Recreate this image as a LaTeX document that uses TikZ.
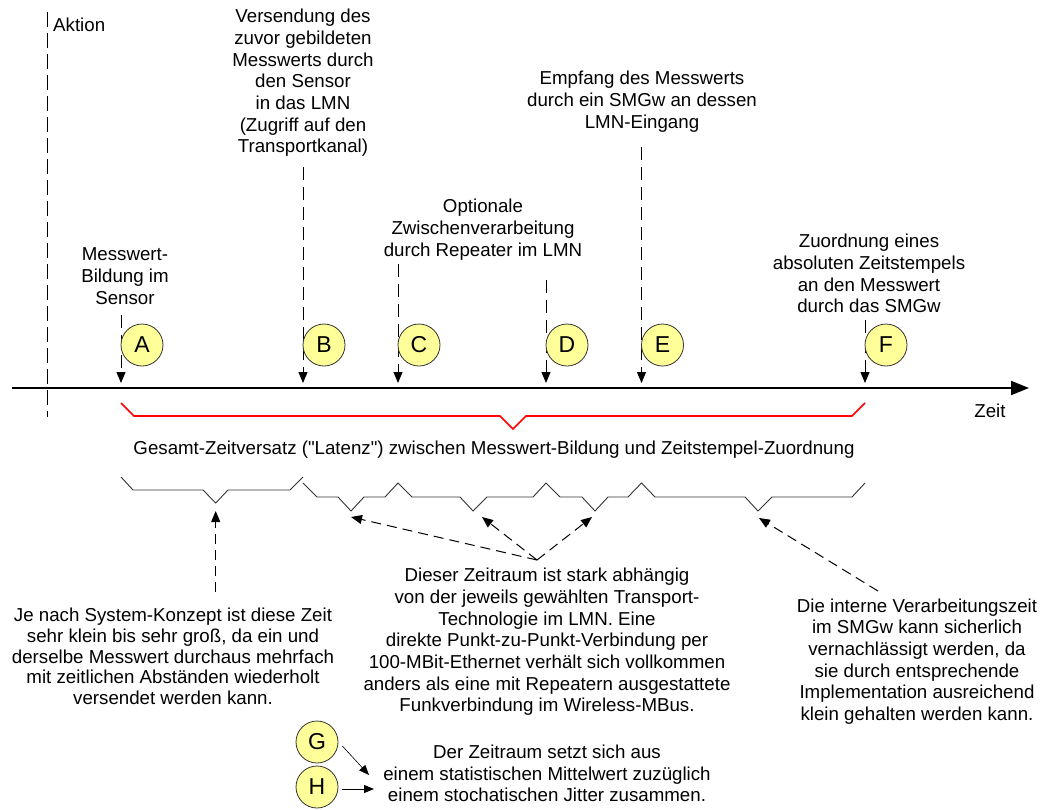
\documentclass[tikz,border=0pt]{standalone}
\usepackage{fontspec}
\setmainfont{Liberation Sans}
\usetikzlibrary{arrows.meta}
\definecolor{circfill}{HTML}{FFFF99}
\definecolor{braceg}{HTML}{333333}
\tikzset{
  txt/.style={inner sep=0pt, align=center, font=\fontsize{18.7}{21.7}\selectfont},
  mark circle/.style={circle, draw=black!80, line width=0.8pt, fill=circfill, minimum size=42pt, inner sep=0pt, font=\fontsize{23}{24}\selectfont},
  darr/.style={draw=black, line width=1pt, dash pattern=on 13pt off 7pt, -{Triangle[length=11pt,width=9pt]}},
  darr2/.style={draw=black, line width=1pt, dash pattern=on 10pt off 6pt, -{Triangle[length=11pt,width=9pt]}},
  bracel/.style={draw=braceg, line width=0.9pt},
  redbrace/.style={draw=red, line width=1.6pt},
}
\begin{document}
\begin{tikzpicture}[x=1pt,y=-1pt]
\useasboundingbox (0,0) rectangle (1044,809);
% axis
\coordinate (ax0) at (12,388);
\coordinate (ax1) at (1029,388);
\draw[line width=2pt, -{Triangle[length=18pt,width=14pt]}] (ax0) -- (ax1);
\node[txt] (zeit) at (990,411) {Zeit};
% Aktion
\coordinate (ak0) at (47.7,12);
\coordinate (ak1) at (47.7,417);
\draw[line width=1pt, dash pattern=on 15pt off 6pt] (ak0) -- (ak1);
\node[txt, anchor=west] (aktion) at (53,25) {Aktion};
% event texts
\node[txt] (tA) at (125,276) {Messwert-\\Bildung im\\Sensor};
\node[txt] (tB) at (303,83) {Versendung des\\zuvor gebildeten\\Messwerts durch\\den Sensor\\in das LMN\\(Zugriff auf den\\Transportkanal)};
\node[txt] (tC) at (483,229.5) {Optionale\\Zwischenverarbeitung\\durch Repeater im LMN};
\node[txt] (tE) at (642,101.5) {Empfang des Messwerts\\durch ein SMGw an dessen\\LMN-Eingang};
\node[txt] (tF) at (869,273.5) {Zuordnung eines\\absoluten Zeitstempels\\an den Messwert\\durch das SMGw};
% arrow coordinates
\coordinate (sA) at (121,315); \coordinate (eA) at (121,383);
\coordinate (sB) at (303,167); \coordinate (eB) at (303,383);
\coordinate (sC) at (398,264); \coordinate (eC) at (398,383);
\coordinate (sD) at (546,280); \coordinate (eD) at (546,383);
\coordinate (sE) at (641.5,147); \coordinate (eE) at (641.5,383);
\coordinate (sF) at (865,320); \coordinate (eF) at (865,383);
\foreach \k in {A,B,C,D,E,F} {\draw[darr] (s\k) -- (e\k);}
% circles
\node[mark circle] (cA) at (142,345) {A};
\node[mark circle] (cB) at (324,345) {B};
\node[mark circle] (cC) at (419,345) {C};
\node[mark circle] (cD) at (567,345) {D};
\node[mark circle] (cE) at (662.5,345) {E};
\node[mark circle] (cF) at (886,345) {F};
% red brace
\draw[redbrace] (121,403) -- (134,416) -- (500,416) -- (513,429) -- (526,416) -- (852,416) -- (865,403);
\node[txt] (gesamt) at (494,450) {Gesamt-Zeitversatz (\textquotedbl Latenz\textquotedbl) zwischen Messwert-Bildung und Zeitstempel-Zuordnung};
% lower braces
\draw[bracel] (121,477) -- (133,490) -- (203,490) -- (215.7,503) -- (228,490) -- (290,490) -- (303,477);
\draw[bracel] (303,483) -- (317,497) -- (338,497) -- (351,511) -- (364,497) -- (385,497) -- (398,483)
  -- (412,497) -- (460,497) -- (473,511) -- (487,497) -- (533,497) -- (546,483)
  -- (560,497) -- (582,497) -- (595,511) -- (608,497) -- (628,497) -- (641.5,483)
  -- (655,497) -- (745,497) -- (758,511) -- (772,497) -- (852,497) -- (865,483);
% lower texts
\node[txt, font=\fontsize{18.7}{20.8}\selectfont] (pL) at (173,656.5) {Je nach System-Konzept ist diese Zeit\\sehr klein bis sehr groß, da ein und\\derselbe Messwert durchaus mehrfach\\mit zeitlichen Abständen wiederholt\\versendet werden kann.};
\node[txt] (pC) at (547,642) {Dieser Zeitraum ist stark abhängig\\von der jeweils gewählten Transport-\\Technologie im LMN. Eine\\direkte Punkt-zu-Punkt-Verbindung per\\100-MBit-Ethernet verhält sich vollkommen\\anders als eine mit Repeatern ausgestattete\\Funkverbindung im Wireless-MBus.};
\node[txt] (pR) at (917,661.5) {Die interne Verarbeitungszeit\\im SMGw kann sicherlich\\vernachlässigt werden, da\\sie durch entsprechende\\Implementation ausreichend\\klein gehalten werden kann.};
\node[txt] (pB) at (547,773.5) {Der Zeitraum setzt sich aus\\einem statistischen Mittelwert zuzüglich\\einem stochatischen Jitter zusammen.};
% lower arrows
\coordinate (lL0) at (215.7,592); \coordinate (lL1) at (215.7,511);
\draw[darr2] (lL0) -- (lL1);
\coordinate (cc) at (537,560);
\coordinate (c1) at (351,517); \coordinate (c2) at (482,517); \coordinate (c3) at (592,517);
\draw[darr2] (cc) -- (c1);
\draw[darr2] (cc) -- (c2);
\draw[darr2] (cc) -- (c3);
\coordinate (r0) at (878,591); \coordinate (r1) at (759,518);
\draw[darr2] (r0) -- (r1);
% G / H
\node[mark circle] (cG) at (317,742) {G};
\node[mark circle] (cH) at (317,787) {H};
\coordinate (gT) at (369,775);
\coordinate (hT) at (374,789);
\draw[line width=0.6pt, -{Triangle[length=10pt,width=8pt]}] (cG.east) ++(4,4) -- (gT);
\draw[line width=0.8pt, -{Triangle[length=10pt,width=8pt]}] (cH.east) ++(4,2) -- (hT);
\end{tikzpicture}
\end{document}
